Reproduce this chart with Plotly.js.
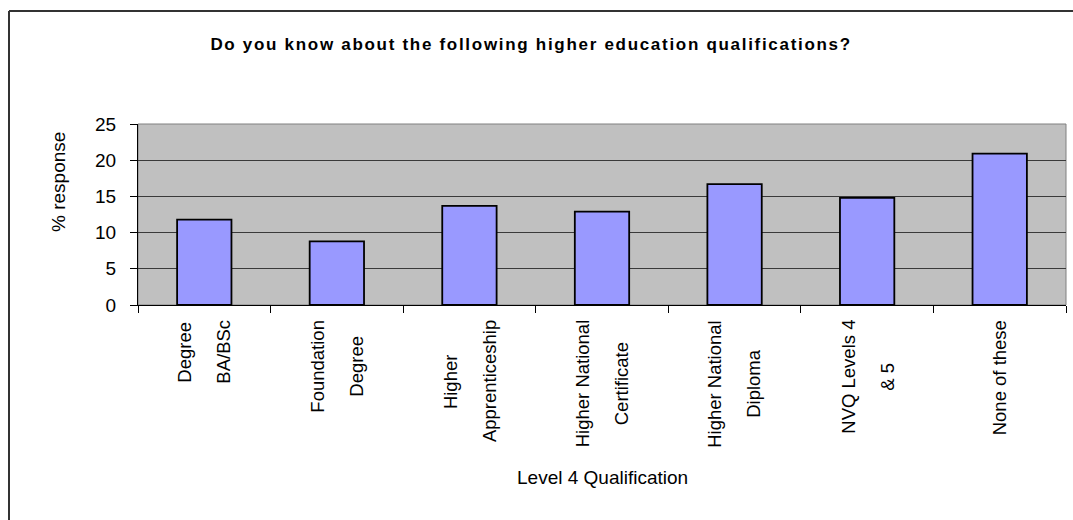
<!DOCTYPE html>
<html>
<head>
<meta charset="utf-8">
<script src="https://cdn.plot.ly/plotly-3.0.1.min.js"></script>
<style>
  html, body { margin: 0; padding: 0; background: #ffffff; overflow: hidden; }
  #chart { width: 1073px; height: 520px; }
  #chart .gtitle { letter-spacing: 1.7px; }
</style>
</head>
<body>
<div id="chart"></div>
<script>
// ---- data ----
const categories = ["Degree BA/BSc", "Foundation Degree", "Higher Apprenticeship",
  "Higher National Certificate", "Higher National Diploma", "NVQ Levels 4 & 5", "None of these"];
const tickLines = [
  ["Degree", "BA/BSc"],
  ["Foundation", "Degree"],
  ["Higher", "Apprenticeship"],
  ["Higher National", "Certificate"],
  ["Higher National", "Diploma"],
  ["NVQ Levels 4", "& 5"],
  ["None of these"]
];
const responses = [11.8, 8.8, 13.7, 12.9, 16.7, 14.8, 20.9];
const yTicks = [0, 5, 10, 15, 20, 25];
const chartTitle = "Do you know about the following higher education qualifications?";
const xTitle = "Level 4 Qualification";
const yTitle = "% response";

// ---- style ----
const baseFont = '"Liberation Sans", Arial, sans-serif';
const tickSize = 18.5;
const M = {l: 138, r: 7, t: 124, b: 215};
const plotH = 520 - M.t - M.b;
const plotW = 1073 - M.l - M.r;

const canvas = document.createElement('canvas');
const ctx = canvas.getContext('2d');
ctx.font = tickSize + 'px ' + baseFont;

const annotations = [];
const lineGap = 39;
tickLines.forEach((lines, ci) => {
  const maxLen = Math.max.apply(null, lines.map(s => ctx.measureText(s).width));
  lines.forEach((s, li) => {
    annotations.push({
      text: s, x: categories[ci], xref: 'x', y: 0, yref: 'paper',
      xanchor: 'center', yanchor: 'middle', textangle: -90, showarrow: false,
      xshift: (li - (lines.length - 1) / 2) * lineGap,
      yshift: -(15 + maxLen / 2),
      font: {family: baseFont, size: tickSize, color: '#000'}
    });
  });
});
annotations.push({
  text: xTitle, x: 0.5, xref: 'paper', y: 0, yref: 'paper',
  xanchor: 'center', yanchor: 'middle', yshift: -172, showarrow: false,
  font: {family: baseFont, size: 19, color: '#000'}
});
annotations.push({
  text: yTitle, x: 0, xref: 'paper', y: (305 - 182) / plotH, yref: 'paper',
  xanchor: 'center', yanchor: 'middle', xshift: -80, textangle: -90, showarrow: false,
  font: {family: baseFont, size: 19, color: '#000'}
});

const trace = {
  type: 'bar', x: categories, y: responses,
  marker: {color: '#9999ff', line: {color: '#000', width: 1.8}},
  hoverinfo: 'x+y'
};

const layout = {
  width: 1073, height: 520,
  margin: M,
  paper_bgcolor: '#ffffff',
  plot_bgcolor: '#c0c0c0',
  showlegend: false,
  bargap: 0.59,
  title: {
    text: chartTitle, xref: 'container', x: 0.495, yref: 'container', y: 1 - 44 / 520,
    xanchor: 'center', yanchor: 'middle',
    font: {family: baseFont, size: 17, color: '#000', weight: 'bold'}
  },
  xaxis: {
    type: 'category', showticklabels: false, ticks: 'outside', ticklen: 7,
    tickcolor: '#000', tickwidth: 1, tickson: 'boundaries',
    showline: true, linecolor: '#000', linewidth: 1, showgrid: false, zeroline: false,
    fixedrange: true
  },
  yaxis: {
    range: [0, 25], tickvals: yTicks, ticktext: yTicks.map(String),
    ticks: 'outside', ticklen: 7, tickcolor: '#000', tickwidth: 1,
    showline: true, linecolor: '#000', linewidth: 1,
    showgrid: true, gridcolor: '#3a3a3a', gridwidth: 1, zeroline: false,
    tickfont: {family: baseFont, size: 19, color: '#000'},
    ticklabelstandoff: 10, fixedrange: true
  },
  annotations: annotations,
  shapes: [
    {type: 'rect', xref: 'paper', yref: 'paper', x0: 0, x1: 1, y0: 0, y1: 1,
     line: {color: '#808080', width: 1}, layer: 'below'},
    {type: 'line', xref: 'paper', yref: 'paper',
     x0: (9 - M.l) / plotW, x1: (9 - M.l) / plotW, y0: (305 - 600) / plotH, y1: (305 - 11) / plotH,
     line: {color: '#333', width: 2}},
    {type: 'line', xref: 'paper', yref: 'paper',
     x0: (9 - M.l) / plotW, x1: (1100 - M.l) / plotW, y0: (305 - 11) / plotH, y1: (305 - 11) / plotH,
     line: {color: '#333', width: 2}}
  ]
};

Plotly.newPlot('chart', [trace], layout, {displayModeBar: false, staticPlot: true});
</script>
</body>
</html>
